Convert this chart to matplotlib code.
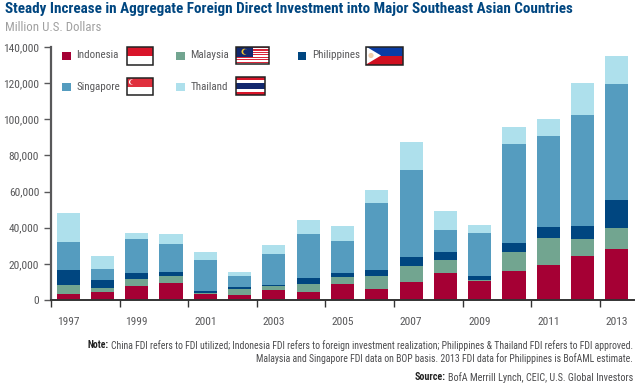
import matplotlib
matplotlib.use("Agg")
import matplotlib.pyplot as plt
from matplotlib import font_manager as fm
from matplotlib.patches import Rectangle, Polygon, Circle
import numpy as np

years = list(range(1997, 2014))
indonesia_top = [3100, 4600, 7900, 9600, 3100, 2800, 5350, 4400, 8900, 5900, 10100, 14800, 10700, 16000, 19200, 24500, 28400]
malaysia_top = [8300, 6600, 11800, 13500, 3700, 6100, 7560, 8900, 12700, 13500, 19000, 22100, 10900, 26750, 34300, 33900, 40000]
philippines_top = [16600, 11000, 14800, 15300, 5000, 7200, 8300, 12000, 14800, 16800, 24000, 26600, 13500, 31400, 40400, 41100, 55350]
singapore_top = [32300, 17000, 33600, 30800, 22100, 13300, 25500, 36300, 32700, 53700, 71800, 38700, 37300, 86500, 90900, 102200, 119300]
thailand_top = [48000, 24350, 37300, 36300, 26750, 15500, 30600, 44300, 41000, 60900, 87500, 49300, 41500, 95500, 100150, 120000, 135000]

names = ["Indonesia", "Malaysia", "Philippines", "Singapore", "Thailand"]
colors = ["#A50034", "#72A590", "#004680", "#559CBF", "#AEE0EC"]


def font_by_file(fragment, fallback_weight):
    for f in fm.fontManager.ttflist:
        if f.fname.endswith(fragment):
            return f.fname
    return fm.findfont(fm.FontProperties(family="Roboto", weight=fallback_weight))


REG = font_by_file("RobotoCondensed-Regular.ttf", "normal")
BOLD = font_by_file("RobotoCondensed-Bold.ttf", "bold")


def fp(size, bold=False):
    return fm.FontProperties(fname=BOLD if bold else REG, size=size)


W, H = 640, 385
fig = plt.figure(figsize=(W / 100, H / 100), dpi=100)
ax = fig.add_axes([51 / W, 1 - 300 / H, (634 - 51) / W, (300 - 47) / H])

tops = [indonesia_top, malaysia_top, philippines_top, singapore_top, thailand_top]
x = np.arange(len(years))
prev = np.zeros(len(years))
for top, c in zip(tops, colors):
    top = np.array(top, dtype=float)
    ax.bar(x, top - prev, bottom=prev, width=0.675, color=c, linewidth=0)
    prev = top

ax.set_xlim(-0.5, 16.5)
ax.set_ylim(0, 140000)
for s in ("top", "right"):
    ax.spines[s].set_visible(False)
ax.spines["left"].set_color("#58585A")
ax.spines["left"].set_linewidth(1.6)
ax.spines["bottom"].set_color("#333333")
ax.spines["bottom"].set_linewidth(1.4)
ax.set_yticks(np.arange(0, 140001, 20000))
ax.set_yticklabels([f"{v:,}" for v in range(0, 140001, 20000)], fontproperties=fp(8.2), color="#58585A")
ax.tick_params(axis="y", length=5, width=1, color="#58585A", pad=3.5)
ax.set_xticks(np.arange(-0.5, 16, 2))
ax.set_xticklabels([])
ax.tick_params(axis="x", which="major", length=5, width=1, color="#333333")
ax.set_xticks(np.arange(0, 17, 2), minor=True)
ax.set_xticklabels([str(y) for y in years[::2]], minor=True, fontproperties=fp(8.2), color="#58585A")
ax.tick_params(axis="x", which="minor", length=0, pad=12)

ov = fig.add_axes([0, 0, 1, 1], facecolor="none")
ov.set_xlim(0, W)
ov.set_ylim(H, 0)
ov.axis("off")


def fit(t, target):
    fig.canvas.draw()
    w = t.get_window_extent().width
    t.set_fontsize(t.get_fontsize() * target / w)


title = ov.text(5, 9.5, "Steady Increase in Aggregate Foreign Direct Investment into Major Southeast Asian Countries",
                fontproperties=fp(11, True), color="#004680", va="center", ha="left")
fit(title, 568)
sub = ov.text(5, 27.5, "Million U.S. Dollars", fontproperties=fp(9), color="#A0A0A0", va="center", ha="left")
fit(sub, 97)

legend_pos = [(62, 55.5), (176, 55.5), (297.5, 55.5), (62, 86.5), (176, 86.5)]
for n, c, (lx, ly) in zip(names, colors, legend_pos):
    ov.add_patch(Rectangle((lx, ly - 4), 8.5, 8.5, facecolor=c, edgecolor="none"))
    ov.text(lx + 14.5, ly, n, fontproperties=fp(7.9), color="#58585A", va="center", ha="left")


def frame(x0, y0, w, h):
    ov.add_patch(Rectangle((x0, y0), w, h, fill=False, edgecolor="#222222", linewidth=1.1, zorder=5))


# Indonesia
ov.add_patch(Rectangle((126.5, 47), 26.5, 9, facecolor="#D9152A", edgecolor="none"))
frame(126.5, 47, 26.5, 17.5)
# Singapore
ov.add_patch(Rectangle((126.5, 77.5), 26.5, 9, facecolor="#E0303E", edgecolor="none"))
ov.add_patch(Circle((131.5, 82), 2.6, facecolor="white", edgecolor="none"))
ov.add_patch(Circle((132.6, 82), 2.4, facecolor="#E0303E", edgecolor="none"))
frame(126.5, 77.5, 26.5, 17.5)
# Malaysia
for i in range(14):
    ov.add_patch(Rectangle((235.5, 47 + i * 17 / 14), 33, 17 / 14,
                           facecolor="#D9253A" if i % 2 == 0 else "white", edgecolor="none"))
ov.add_patch(Rectangle((235.5, 47), 17, 9.5, facecolor="#12286E", edgecolor="none"))
ov.add_patch(Circle((244.5, 51.7), 3, facecolor="#F4C430", edgecolor="none"))
ov.add_patch(Circle((245.7, 51.7), 2.5, facecolor="#12286E", edgecolor="none"))
frame(235.5, 47, 33, 17)
# Thailand
for y0, h, c in [(77, 3, "#D9152A"), (80, 3, "white"), (83, 6, "#12286E"), (89, 3, "white"), (92, 3, "#D9152A")]:
    ov.add_patch(Rectangle((235.5, y0), 29, h, facecolor=c, edgecolor="none"))
frame(235.5, 77, 29, 18)
# Philippines
ov.add_patch(Rectangle((366, 46.5), 37, 9, facecolor="#0A3CA5", edgecolor="none"))
ov.add_patch(Rectangle((366, 55.5), 37, 9, facecolor="#D01020", edgecolor="none"))
ov.add_patch(Polygon([(366, 46.5), (381, 55.5), (366, 64.5)], facecolor="white", edgecolor="none", zorder=3))
ov.add_patch(Circle((371, 55.5), 2.6, facecolor="#F2CFAE", edgecolor="none", zorder=4))
frame(366, 46.5, 37, 18)

note1 = "China FDI refers to FDI utilized; Indonesia FDI refers to foreign investment realization; Philippines & Thailand FDI refers to FDI approved."
note2 = "Malaysia and Singapore FDI data on BOP basis. 2013 FDI data for Philippines is BofAML estimate."
source = "BofA Merrill Lynch, CEIC, U.S. Global Investors"
t1 = ov.text(633, 345.5, note1, fontproperties=fp(7.8), color="#4A4A4C", va="center", ha="right")
fit(t1, 522)
fn = t1.get_fontsize()
fig.canvas.draw()
ov.text(t1.get_window_extent().x0 - 2, 345.5, "Note:", fontproperties=fp(fn, True), color="#222222", va="center", ha="right")
ov.text(633, 358.5, note2, fontproperties=fp(fn), color="#4A4A4C", va="center", ha="right")
t3 = ov.text(633, 377.5, source, fontproperties=fp(fn * 1.04), color="#4A4A4C", va="center", ha="right")
fig.canvas.draw()
ov.text(t3.get_window_extent().x0 - 2, 377.5, "Source:", fontproperties=fp(fn * 1.04, True), color="#222222", va="center", ha="right")

fig.savefig("out.png", dpi=100)
